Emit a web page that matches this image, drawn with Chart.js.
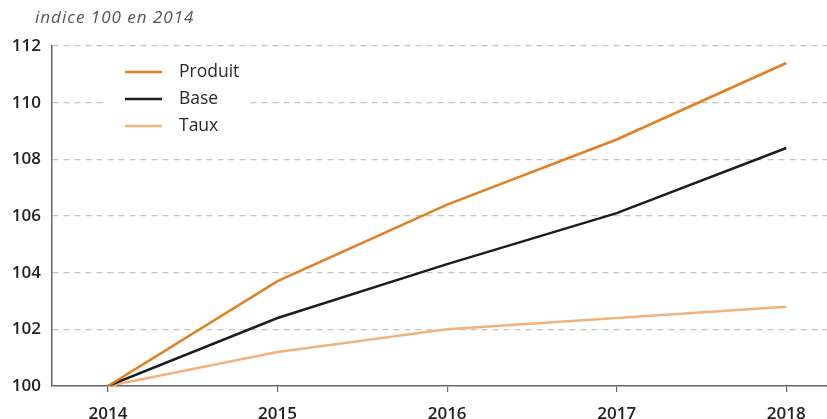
<!DOCTYPE html>
<html><head><meta charset="utf-8">
<script src="https://cdn.jsdelivr.net/npm/chart.js@4.4.0/dist/chart.umd.min.js"></script>
<style>html,body{margin:0;padding:0;background:#fff}#wrap{width:827px;height:419px;position:relative}</style>
</head><body><div id="wrap"><canvas id="c" width="827" height="419"></canvas></div>
<script>
const years = [2014, 2015, 2016, 2017, 2018];
const produit = [100, 103.7, 106.4, 108.7, 111.4];
const base = [100, 102.4, 104.3, 106.1, 108.4];
const taux = [100, 101.2, 102.0, 102.4, 102.8];
const yTicks = [100, 102, 104, 106, 108, 110, 112];
const seriesNames = ['Produit', 'Base', 'Taux'];
const seriesColors = ['#E27F22', '#1d1d1b', '#F2B27E'];
const subtitle = 'indice 100 en 2014';
const FONT = '"Open Sans", Lato, sans-serif';

const pts = arr => years.map((y, i) => ({x: y, y: arr[i]}));

const decor = {
  id: 'decor',
  beforeDatasetsDraw(chart) {
    const ctx = chart.ctx;
    ctx.save();
    ctx.fillStyle = '#fff';
    ctx.fillRect(106, 56, 140, 84);
    ctx.restore();
  },
  afterDraw(chart) {
    const ctx = chart.ctx;
    ctx.save();
    ctx.fillStyle = '#555';
    ctx.font = 'italic 17px ' + FONT;
    ctx.letterSpacing = '1px';
    ctx.textBaseline = 'middle';
    ctx.fillText(subtitle, 35, 18);
    ctx.letterSpacing = '0px';
    const rows = [72, 99, 126];
    chart.data.datasets.forEach((ds, i) => {
      ctx.strokeStyle = ds.borderColor;
      ctx.lineWidth = 2.5;
      ctx.beginPath();
      ctx.moveTo(125, rows[i]);
      ctx.lineTo(162, rows[i]);
      ctx.stroke();
      ctx.fillStyle = '#2a2a2a';
      ctx.font = '17.5px ' + FONT;
      ctx.textBaseline = 'middle';
      ctx.fillText(ds.label, 179, rows[i]);
    });
    ctx.restore();
  }
};

new Chart(document.getElementById('c'), {
  type: 'line',
  data: {
    datasets: [
      {label: seriesNames[0], data: pts(produit), borderColor: seriesColors[0]},
      {label: seriesNames[1], data: pts(base), borderColor: seriesColors[1]},
      {label: seriesNames[2], data: pts(taux), borderColor: seriesColors[2]}
    ].map(d => Object.assign(d, {borderWidth: 2.5, pointRadius: 0, tension: 0, fill: false}))
  },
  options: {
    responsive: false,
    animation: false,
    layout: {padding: {top: 46, right: 0, bottom: 0, left: 0}},
    plugins: {legend: {display: false}, tooltip: {enabled: false}},
    scales: {
      x: {
        type: 'linear',
        min: 2013.67, max: 2018.24,
        afterFit: s => { s.height = 33; },
        afterBuildTicks: s => { s.ticks = years.map(v => ({value: v})); },
        grid: {drawOnChartArea: false, drawTicks: true, tickLength: 6, color: '#666', lineWidth: 1.2},
        border: {display: true, color: '#666', width: 1.5},
        ticks: {font: {family: FONT, size: 17, weight: '600'}, color: '#222', padding: 12,
                callback: v => String(v), maxRotation: 0}
      },
      y: {
        min: 100, max: 112,
        afterFit: s => { s.width = 52; },
        afterBuildTicks: s => { s.ticks = yTicks.map(v => ({value: v})); },
        grid: {drawTicks: false, color: c => c.tick && c.tick.value === 100 ? 'rgba(0,0,0,0)' : '#c4c4c4', lineWidth: 1.2},
        border: {display: true, color: '#666', width: 1.5, dash: [6, 5]},
        ticks: {font: {family: FONT, size: 17, weight: '600'}, color: '#222', padding: 11}
      }
    }
  },
  plugins: [decor]
});
</script></body></html>
